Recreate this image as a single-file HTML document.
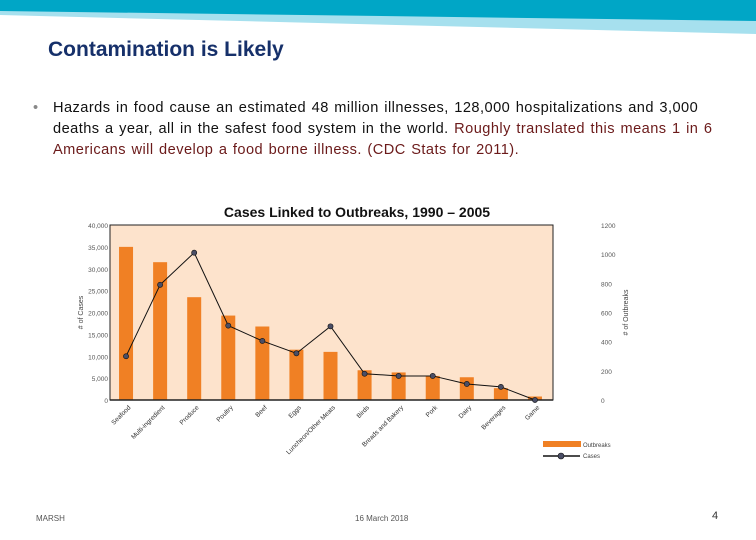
<!DOCTYPE html>
<html><head><meta charset="utf-8"><style>
body{margin:0;width:756px;height:540px;overflow:hidden;background:#fff;font-family:"Liberation Sans",sans-serif;position:relative}
.abs{position:absolute;margin:0}
</style></head><body>
<svg class="abs" style="left:0;top:0" width="756" height="40">
<polygon points="0,0 756,0 756,34 0,15" fill="#a6e0ee"/>
<polygon points="0,0 756,0 756,21 0,11" fill="#00a6c6"/>
</svg>
<h1 class="abs" style="left:48px;top:38px;font-size:21px;font-weight:bold;color:#16306a">Contamination is Likely</h1>
<div class="abs" style="left:33px;top:98px;width:696px;font-size:14.6px;letter-spacing:0.45px;word-spacing:1px;line-height:21px;color:#111">
<span style="position:absolute;left:0;color:#888">•</span>
<div style="padding-left:20px">Hazards in food cause an estimated 48 million illnesses, 128,000 hospitalizations and 3,000<br>deaths a year, all in the safest food system in the world. <span style="color:#6b1a1a">Roughly translated this means 1 in 6<br>Americans will develop a food borne illness. (CDC Stats for 2011).</span></div>
</div>
<svg class="abs" style="left:0;top:195px" width="756" height="280" id="chart"></svg>
<div class="abs" style="left:36px;top:514px;font-size:8px;color:#555">MARSH</div>
<div class="abs" style="left:355px;top:514px;font-size:8px;color:#555">16 March 2018</div>
<div class="abs" style="left:712px;top:510px;font-size:11px;color:#333">4</div>
<script>
const categories=["Seafood","Multi-ingredient","Produce","Poultry","Beef","Eggs","Luncheon/Other Meats","Birds","Breads and Bakery","Pork","Dairy","Beverages","Game"];
const cases=[35000,31500,23500,19300,16800,11500,11000,6800,6300,5500,5200,2700,800];
const outbreaks=[300,790,1010,510,405,320,505,180,165,165,110,90,0];
const leftTicks=["0","5,000","10,000","15,000","20,000","25,000","30,000","35,000","40,000"];
const rightTicks=["0","200","400","600","800","1000","1200"];
const NS="http://www.w3.org/2000/svg",svg=document.getElementById('chart');
function mk(t,a,p){const e=document.createElementNS(NS,t);for(const k in a)e.setAttribute(k,a[k]);(p||svg).appendChild(e);return e;}
const X0=110,X1=553,Y0=205,Y1=30;
const band=(X1-X0)/categories.length;
const xc=i=>X0+band*(i+0.5)-1;
const yl=v=>Y0-(v/40000)*(Y0-Y1);
const yr=v=>Y0-(v/1200)*(Y0-Y1);
let e=mk('text',{x:357,y:22,'text-anchor':'middle','font-size':14,'font-weight':'bold',fill:'#111'});e.textContent="Cases Linked to Outbreaks, 1990 – 2005";


e=mk('rect',{x:X0,y:Y1,width:X1-X0,height:Y0-Y1,fill:'#fde3cc',stroke:'#222','stroke-width':1});


leftTicks.forEach((t,i)=>{const el=mk('text',{x:X0-2,y:yl(i*5000)+3,'text-anchor':'end','font-size':6.5,fill:'#555'});el.textContent=t;

});
rightTicks.forEach((t,i)=>{const el=mk('text',{x:X1+48,y:yr(i*200)+3,'text-anchor':'start','font-size':6.5,fill:'#555'});el.textContent=t;

});
e=mk('text',{x:0,y:0,'font-size':7,fill:'#444','text-anchor':'middle',transform:`translate(83,${(Y0+Y1)/2}) rotate(-90)`});e.textContent="# of Cases";


e=mk('text',{x:0,y:0,'font-size':7,fill:'#444','text-anchor':'middle',transform:`translate(628,${(Y0+Y1)/2}) rotate(-90)`});e.textContent="# of Outbreaks";


categories.forEach((c,i)=>{
 const b=mk('rect',{x:xc(i)-7,y:yl(cases[i]),width:14,height:Y0-yl(cases[i]),fill:'#f08024'});
 
 
 const t=mk('text',{x:0,y:0,'font-size':6.5,fill:'#333','text-anchor':'end',transform:`translate(${xc(i)+5},${Y0+8}) rotate(-45)`});t.textContent=c;
 
 
});
mk('line',{x1:X0,y1:Y0,x2:X1,y2:Y0,stroke:'#222','stroke-width':1.5});
const pts=outbreaks.map((v,i)=>xc(i)+','+yr(v)).join(' ');
e=mk('polyline',{points:pts,fill:'none',stroke:'#111','stroke-width':1});


outbreaks.forEach((v,i)=>{const c=mk('circle',{cx:xc(i),cy:yr(v),r:2.6,fill:'#4a4e66',stroke:'#111','stroke-width':0.6});

});
e=mk('rect',{x:543,y:246,width:38,height:6,fill:'#f08024'});


e=mk('text',{x:583,y:252,'font-size':6,fill:'#444'});e.textContent="Outbreaks";


mk('line',{x1:543,y1:261,x2:580,y2:261,stroke:'#111','stroke-width':1.5});
e=mk('circle',{cx:561,cy:261,r:3,fill:'#4a4e66',stroke:'#111','stroke-width':0.6});


e=mk('text',{x:583,y:263,'font-size':6,fill:'#444'});e.textContent="Cases";


</script>
</body></html>
